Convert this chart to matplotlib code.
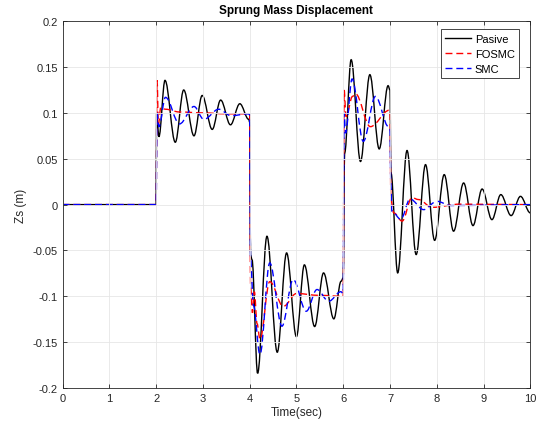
import matplotlib
matplotlib.use('Agg')
import matplotlib.pyplot as plt
from matplotlib.path import Path
from matplotlib.patches import PathPatch

plt.rcParams['font.family'] = ['Liberation Sans', 'DejaVu Sans']

# values (time in s, displacement in m)
t_pasive = [0, 2.0, 2.01, 2.06, 2.19, 2.41, 2.59, 2.81, 2.985, 3.2, 3.38, 3.59, 3.79, 3.98,
            4.0, 4.02, 4.05, 4.17, 4.37, 4.59, 4.79, 5.0, 5.17, 5.39, 5.58, 5.8, 5.955,
            6.0, 6.03, 6.17, 6.37, 6.57, 6.77, 6.96, 7.0, 7.02, 7.165, 7.365, 7.56, 7.76,
            7.955, 8.16, 8.36, 8.575, 8.775, 8.97, 9.18, 9.37, 9.59, 9.79, 10.0]
z_pasive = [0, 0, 0.10, 0.074, 0.1355, 0.068, 0.125, 0.075, 0.119, 0.082, 0.114, 0.087, 0.110, 0.093,
            0.09, -0.055, -0.06, -0.184, -0.0345, -0.161, -0.0527, -0.144, -0.0657, -0.133, -0.0745, -0.1246, -0.0836,
            -0.08, 0.056, 0.158, 0.047, 0.1417, 0.0607, 0.1297, 0.125, 0.035, -0.0745, 0.059, -0.0545, 0.0436,
            -0.039, 0.0327, -0.029, 0.0236, -0.0229, 0.017, -0.0164, 0.0109, -0.012, 0.009, -0.009]

t_fosmc = [0, 2.0, 2.02, 2.05, 2.1, 2.2, 2.5, 3.0, 3.5, 3.98,
           4.0, 4.02, 4.06, 4.10, 4.16, 4.22, 4.43, 4.72, 5.0, 5.5, 6.0,
           6.02, 6.06, 6.2, 6.26, 6.58, 6.99, 7.0, 7.02, 7.08, 7.26, 7.47, 7.61, 7.9, 8.5, 10]
z_fosmc = [0, 0, 0.1355, 0.088, 0.106, 0.104, 0.101, 0.100, 0.099, 0.099,
           0.099, -0.09, -0.118, -0.095, -0.13, -0.147, -0.084, -0.111, -0.097, -0.099, -0.1,
           0.125, 0.096, 0.118, 0.121, 0.085, 0.103, 0.102, 0.005, -0.009, -0.018, 0.0076, 0.0055, -0.003, 0.0005, 0]

t_smc = [0, 2.0, 2.02, 2.06, 2.2, 2.5, 2.81, 3.02, 3.34, 3.6, 3.98,
         4.0, 4.02, 4.08, 4.22, 4.43, 4.69, 4.93, 5.21, 5.44, 5.69, 5.95,
         6.0, 6.02, 6.05, 6.19, 6.43, 6.69, 6.97, 7.0, 7.02, 7.04, 7.23, 7.43, 7.72, 8.0, 8.3, 10]
z_smc = [0, 0, 0.1, 0.085, 0.117, 0.088, 0.107, 0.093, 0.104, 0.097, 0.099,
         0.098, -0.06, -0.11, -0.1635, -0.0636, -0.1326, -0.0817, -0.1163, -0.0926, -0.1054, -0.095,
         -0.097, 0.1, 0.078, 0.137, 0.069, 0.118, 0.085, 0.083, 0.02, -0.007, -0.016, 0.006, -0.0055, 0.0036, -0.001, 0]

xticks = list(range(0, 11))
yticks = [-0.2, -0.15, -0.1, -0.05, 0, 0.05, 0.1, 0.15, 0.2]
ylabels = ['-0.2', '-0.15', '-0.1', '-0.05', '0', '0.05', '0.1', '0.15', '0.2']


def smooth_path(t, z, k=0.36):
    # rounded connection between the read points (flat tangent at each point)
    verts = [(t[0], z[0])]
    codes = [Path.MOVETO]
    for i in range(1, len(t)):
        d = (t[i] - t[i - 1]) * k
        verts += [(t[i - 1] + d, z[i - 1]), (t[i] - d, z[i]), (t[i], z[i])]
        codes += [Path.CURVE4] * 3
    return Path(verts, codes)


fig = plt.figure(figsize=(5.37, 4.27), dpi=100)
ax = fig.add_axes([0.1165, 0.089, 0.871, 0.859])

dash = (0, (5, 2.8))
series = [(t_pasive, z_pasive, 'black', '-', 'Pasive'),
          (t_fosmc, z_fosmc, 'red', dash, 'FOSMC'),
          (t_smc, z_smc, 'blue', dash, 'SMC')]
for t, z, c, ls, lab in series:
    ax.add_patch(PathPatch(smooth_path(t, z), facecolor='none', edgecolor=c,
                           lw=1.0, linestyle=ls))
    ax.plot([], [], color=c, lw=1.0, linestyle=ls, label=lab)

ax.set_xlim(0, 10)
ax.set_ylim(-0.2, 0.2)
ax.set_xticks(xticks)
ax.set_yticks(yticks)
ax.set_yticklabels(ylabels)
ax.tick_params(direction='in', top=True, right=True, labelsize=8, colors='#262626',
               length=3, width=0.6, labelcolor='#262626')
ax.grid(True, color='#e6e6e6', lw=0.6)
for s in ax.spines.values():
    s.set_color('#262626')
    s.set_linewidth(0.6)

ax.set_xlabel('Time(sec)', fontsize=8.5, color='#262626', labelpad=2)
ax.set_ylabel('Zs (m)', fontsize=8.5, color='#262626', labelpad=4)
ax.set_title('Sprung Mass Displacement', fontsize=8.5, fontweight='bold', pad=6)

leg = ax.legend(loc='upper right', bbox_to_anchor=(0.9765, 0.978), borderaxespad=0,
                fontsize=8, fancybox=False, handlelength=2.3, handletextpad=0.35,
                borderpad=0.4, framealpha=1, edgecolor='#262626', labelspacing=0.45)
leg.get_frame().set_linewidth(0.6)

fig.savefig('out.png', dpi=100)
